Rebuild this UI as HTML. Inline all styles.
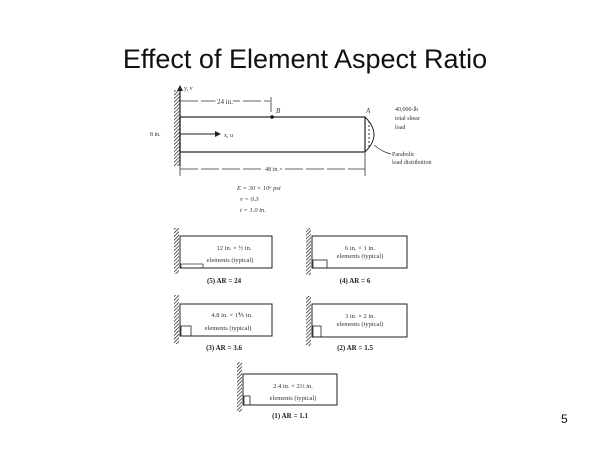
<!DOCTYPE html>
<html><head><meta charset="utf-8"><style>
html,body{margin:0;padding:0;background:#fff;}
svg{display:block;}
</style></head><body>
<svg width="600" height="449" viewBox="0 0 600 449" xmlns="http://www.w3.org/2000/svg" font-family="Liberation Serif, serif">
<defs>
<pattern id="h" width="2.5" height="2.5" patternUnits="userSpaceOnUse" patternTransform="rotate(45)">
<line x1="0" y1="0" x2="0" y2="2.5" stroke="#111" stroke-width="1.3"/>
</pattern>
<marker id="ar" markerWidth="6" markerHeight="6" refX="5" refY="3" orient="auto"><path d="M0,0 L6,3 L0,6z" fill="#222"/></marker>
</defs>
<text x="305" y="68" font-family="Liberation Sans, sans-serif" font-size="27" text-anchor="middle" fill="#111">Effect of Element Aspect Ratio</text>

<rect x="174" y="90" width="6" height="76" fill="url(#h)"/>
<line x1="180" y1="88" x2="180" y2="166" stroke="#222" stroke-width="1.2"/>
<line x1="180" y1="120" x2="180" y2="86" stroke="#222" stroke-width="1" marker-end="url(#ar)"/>
<text x="184" y="90" font-size="6" fill="#333">y, v</text>
<line x1="180" y1="101" x2="270" y2="101" stroke="#333" stroke-width="0.8" stroke-dasharray="18,3"/>
<line x1="271" y1="97" x2="271" y2="112" stroke="#333" stroke-width="0.8"/>
<text x="225" y="104" font-size="7" text-anchor="middle" fill="#333" style="paint-order:stroke" stroke="#fff" stroke-width="4">24 in.</text>
<rect x="180" y="117" width="185" height="35" fill="none" stroke="#222" stroke-width="1.2"/>
<circle cx="272" cy="117" r="1.8" fill="#111"/>
<text x="276" y="113" font-size="7" font-style="italic" fill="#333">B</text>
<text x="366" y="113" font-size="7" font-style="italic" fill="#333">A</text>
<path d="M365,117 Q383,134.5 365,152" fill="none" stroke="#222" stroke-width="1"/>
<line x1="369" y1="121" x2="369" y2="148" stroke="#333" stroke-width="1" stroke-dasharray="2,2"/>
<line x1="180" y1="134" x2="220" y2="134" stroke="#222" stroke-width="1" marker-end="url(#ar)"/>
<text x="224" y="137" font-size="6" fill="#333">x, u</text>
<text x="150" y="136" font-size="6" fill="#333">8 in.</text>
<line x1="180" y1="169" x2="365" y2="169" stroke="#333" stroke-width="0.8" stroke-dasharray="18,3"/>
<line x1="180" y1="164" x2="180" y2="176" stroke="#333" stroke-width="0.8"/>
<line x1="365" y1="153" x2="365" y2="176" stroke="#333" stroke-width="0.8"/>
<text x="272" y="171" font-size="6" text-anchor="middle" fill="#333" style="paint-order:stroke" stroke="#fff" stroke-width="4">48 in.</text>
<text x="395" y="111" font-size="6" fill="#333">40,000-lb</text>
<text x="395" y="120" font-size="6" fill="#333">total shear</text>
<text x="395" y="129" font-size="6" fill="#333">load</text>
<path d="M374,145 Q382,152 391,154" fill="none" stroke="#333" stroke-width="0.7"/>
<text x="392" y="156" font-size="6" fill="#333">Parabolic</text>
<text x="392" y="164" font-size="6" fill="#333">load distribution</text>
<text x="237" y="190" font-size="6.5" font-style="italic" fill="#333">E = 30 × 10⁶ psi</text>
<text x="240" y="201" font-size="6.5" font-style="italic" fill="#333">ν = 0.3</text>
<text x="240" y="212" font-size="6.5" font-style="italic" fill="#333">t = 1.0 in.</text>

<g stroke="#222" fill="none" stroke-width="1">
<rect x="174" y="228" width="5" height="46" fill="url(#h)" stroke="none"/>
<rect x="180" y="236" width="92" height="32"/>
<rect x="181" y="264" width="22" height="4" stroke-width="0.7"/>
<rect x="306" y="228" width="5" height="47" fill="url(#h)" stroke="none"/>
<rect x="312" y="236" width="95" height="32"/>
<rect x="313" y="260" width="14" height="8" stroke-width="0.8"/>
<rect x="174" y="295" width="5" height="49" fill="url(#h)" stroke="none"/>
<rect x="180" y="304" width="92" height="32"/>
<rect x="181" y="326" width="10" height="10" stroke-width="0.8"/>
<rect x="306" y="296" width="5" height="50" fill="url(#h)" stroke="none"/>
<rect x="312" y="304" width="95" height="33"/>
<rect x="313" y="326" width="8" height="11" stroke-width="0.8"/>
<rect x="237" y="362" width="5" height="50" fill="url(#h)" stroke="none"/>
<rect x="243" y="374" width="94" height="31"/>
<rect x="244" y="396" width="6" height="9" stroke-width="0.8"/>
</g>
<g font-size="6.5" fill="#333" text-anchor="middle">
<text x="234" y="250">12 in. × ½ in.</text>
<text x="230" y="262">elements (typical)</text>
<text x="360" y="250">6 in. × 1 in.</text>
<text x="360" y="258">elements (typical)</text>
<text x="232" y="317">4.8 in. × 1⅗ in.</text>
<text x="228" y="330">elements (typical)</text>
<text x="360" y="318">3 in. × 2 in.</text>
<text x="360" y="326">elements (typical)</text>
<text x="293" y="388">2.4 in. × 2⅔ in.</text>
<text x="293" y="400">elements (typical)</text>
</g>
<g font-size="7" font-weight="bold" fill="#222" text-anchor="middle">
<text x="224" y="283">(5) AR = 24</text>
<text x="355" y="283">(4) AR = 6</text>
<text x="224" y="350">(3) AR = 3.6</text>
<text x="355" y="350">(2) AR = 1.5</text>
<text x="290" y="418">(1) AR = 1.1</text>
</g>
<text x="561" y="423" font-family="Liberation Sans, sans-serif" font-size="12" fill="#111">5</text>
</svg>
</body></html>
